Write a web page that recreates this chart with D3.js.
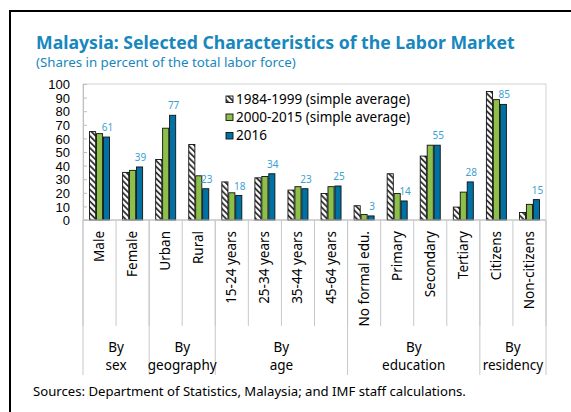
<!DOCTYPE html>
<html><head><meta charset="utf-8">
<script src="https://cdn.jsdelivr.net/npm/d3@7"></script>
<style>body{margin:0;background:#fff}svg{display:block}</style>
</head><body>
<svg id="c" width="571" height="412"></svg>
<script>
const categories = ["Male","Female","Urban","Rural","15-24 years","25-34 years","35-44 years","45-64 years","No formal edu.","Primary","Secondary","Tertiary","Citizens","Non-citizens"];
const seriesNames = ["1984-1999 (simple average)","2000-2015 (simple average)","2016"];
const s1984 = [65,35,44.5,55.5,28,31,22,19.5,10.5,34,47,9.5,94.5,5.5];
const s2000 = [63.5,36.5,67.5,32.5,20,32,24.5,24.5,4,19.5,55,20.5,88.5,11.5];
const s2016 = [61,39,77,23,18,34,23,25,3,14,55,28,85,15];
const labels2016 = ["61","39","77","23","18","34","23","25","3","14","55","28","85","15"];
const groupTop = ["By","By","By","By","By"];
const groupBottom = ["sex","geography","age","education","residency"];
const groupSizes = [2,2,4,4,2];
const yTicks = [0,10,20,30,40,50,60,70,80,90,100];

const FONT = "'Noto Sans', 'Open Sans', sans-serif";
const svg = d3.select("#c");
const L = 83, R = 546, T = 84, B = 220;
const seriesData = [s1984, s2000, s2016];
const colors = ["url(#hatch)", "#8dc04a", "#0071a3"];

const defs = svg.append("defs");
const pat = defs.append("pattern").attr("id","hatch").attr("patternUnits","userSpaceOnUse")
  .attr("width",4.2).attr("height",4.2).attr("patternTransform","rotate(-45)");
pat.append("rect").attr("width",4.2).attr("height",4.2).attr("fill","#fff");
pat.append("line").attr("x1",1).attr("y1",0).attr("x2",1).attr("y2",4.2).attr("stroke","#222").attr("stroke-width",1.7);

function fit(sel, target){
  const w = sel.node().getComputedTextLength();
  const fs = parseFloat(sel.attr("font-size"));
  sel.attr("font-size", (fs*target/w).toFixed(2));
}

// outer frame (top and left)
svg.append("path").attr("d","M10,412V11H571").attr("fill","none").attr("stroke","#000").attr("stroke-width",2);

// title
const title = svg.append("text").attr("x",36).attr("y",49).attr("font-family",FONT).attr("font-weight","bold")
  .attr("font-size",19).attr("fill","#1787bd").text("Malaysia: Selected Characteristics of the Labor Market");
fit(title, 479);
const sub = svg.append("text").attr("x",36).attr("y",67).attr("font-family",FONT)
  .attr("font-size",13).attr("fill","#1787bd").text("(Shares in percent of the total labor force)");
fit(sub, 260);

const x = d3.scaleBand().domain(categories).range([L,R]).paddingInner(0).paddingOuter(0);
const y = d3.scaleLinear().domain([0,100]).range([B,T]);
const x1 = d3.scaleBand().domain([0,1,2]).range([-10,10]).paddingInner(0.12);

// plot frame
svg.append("rect").attr("x",L).attr("y",T).attr("width",R-L).attr("height",B-T)
  .attr("fill","none").attr("stroke","#d4d4d4").attr("stroke-width",1);

// y axis
const yAxis = d3.axisLeft(y).tickValues(yTicks).tickSize(-4).tickPadding(13);
const gy = svg.append("g").attr("transform",`translate(${L},0)`).call(yAxis);
gy.select(".domain").attr("stroke","#bfbfbf");
gy.selectAll(".tick line").attr("stroke","#bfbfbf");
gy.selectAll(".tick text").attr("font-family","'Liberation Sans', Arial, sans-serif").attr("font-size",13).attr("fill","#000").attr("dy","0.36em");

// bars
const cx = c => x(c) + x.bandwidth()/2;
seriesData.forEach((vals, si) => {
  svg.append("g").selectAll("rect").data(categories).join("rect")
    .attr("x", c => cx(c) + x1(si))
    .attr("width", x1.bandwidth())
    .attr("y", (c,i) => y(vals[i]))
    .attr("height", (c,i) => y(0) - y(vals[i]))
    .attr("fill", colors[si]).attr("stroke","#111").attr("stroke-width",0.9);
});

// data labels
svg.append("g").selectAll("text").data(categories).join("text")
  .attr("x", c => cx(c) + x1(2) + x1.bandwidth()/2 + 1)
  .attr("y", (c,i) => y(s2016[i]) - 6)
  .attr("text-anchor","middle").attr("font-family",FONT).attr("font-size",10).attr("fill","#3b9fd4")
  .text((c,i) => labels2016[i]);

// baseline
svg.append("line").attr("x1",L).attr("x2",R).attr("y1",B).attr("y2",B).attr("stroke","#bfbfbf");

// category separators
const bounds = d3.range(categories.length+1).map(i => L + i*x.bandwidth());
svg.append("g").selectAll("line").data(bounds).join("line")
  .attr("x1",d=>d).attr("x2",d=>d).attr("y1",B).attr("y2",326).attr("stroke","#c8c8c8");
// group separators
let acc = 0; const gb = [0];
groupSizes.forEach(s => { acc += s; gb.push(acc); });
svg.append("g").selectAll("line").data(gb).join("line")
  .attr("x1",d=>L+d*x.bandwidth()).attr("x2",d=>L+d*x.bandwidth()).attr("y1",B).attr("y2",375).attr("stroke","#c8c8c8");

// category labels
svg.append("g").selectAll("text").data(categories).join("text")
  .attr("transform", c => `translate(${cx(c)+4.5},231) rotate(-90)`)
  .attr("text-anchor","end").attr("font-family",FONT).attr("font-size",13.5).attr("fill","#000")
  .text(c => c);

// group labels
groupSizes.forEach((s, gi) => {
  const mid = L + (gb[gi] + s/2) * x.bandwidth();
  svg.append("text").attr("x",mid).attr("y",352).attr("text-anchor","middle").attr("font-family",FONT).attr("font-size",13.5).text(groupTop[gi]);
  svg.append("text").attr("x",mid).attr("y",370).attr("text-anchor","middle").attr("font-family",FONT).attr("font-size",13.5).text(groupBottom[gi]);
});

// legend
const lg = svg.append("g");
const rowsY = [99,117,135.5];
seriesNames.forEach((n, i) => {
  lg.append("rect").attr("x",226).attr("y",rowsY[i]-3).attr("width",7).attr("height",6.5)
    .attr("fill",colors[i]).attr("stroke","#111").attr("stroke-width",0.9);
  lg.append("text").attr("x",236).attr("y",rowsY[i]).attr("dy","0.36em").attr("font-family",FONT)
    .attr("font-size",13.5).attr("fill","#000").text(n);
});

// sources
const src = svg.append("text").attr("x",33).attr("y",396).attr("font-family",FONT).attr("font-size",13).attr("fill","#000")
  .text("Sources: Department of Statistics, Malaysia; and IMF staff calculations.");
fit(src, 433);
</script>
</body></html>
